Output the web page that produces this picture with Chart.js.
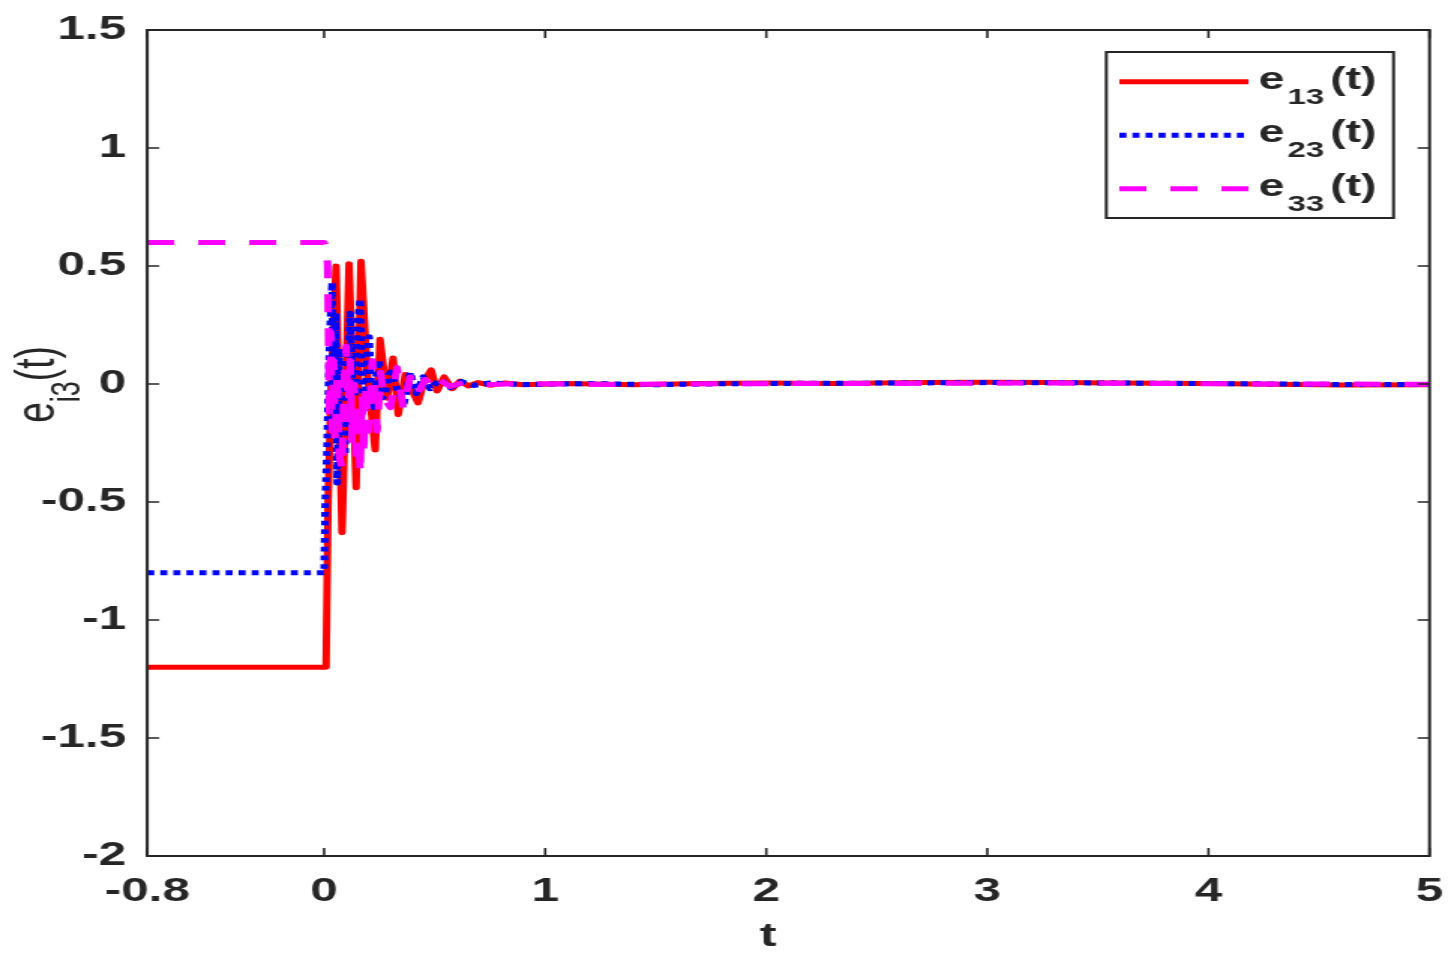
<!DOCTYPE html>
<html><head><meta charset="utf-8">
<script src="https://cdn.jsdelivr.net/npm/chart.js@4.4.1/dist/chart.umd.min.js"></script>
<style>html,body{margin:0;padding:0;background:#fff;overflow:hidden}
#c{display:block}</style>
</head><body>
<canvas id="c" width="969" height="963" style="width:1454px;height:963px"></canvas>
<script>
const xTicks = [-0.8, 0, 1, 2, 3, 4, 5];
const yTicks = [-2, -1.5, -1, -0.5, 0, 0.5, 1, 1.5];
const xTitle = 't';

const t13 = [-0.8, 0, 0.009, 0.018, 0.032, 0.054, 0.081, 0.113, 0.145, 0.167, 0.195, 0.231, 0.253, 0.285, 0.312, 0.335, 0.367, 0.394, 0.425, 0.452, 0.484, 0.511, 0.543, 0.579, 0.615, 0.652, 0.697, 0.751, 0.819, 0.9, 1.1, 1.4, 1.7, 2.0, 2.3, 2.7, 3.0, 3.3, 3.6, 4.0, 4.3, 4.6, 5.0];
const e13 = [-1.2, -1.2, -1.2, -0.5, 0.0, 0.5, -0.63, 0.51, -0.44, 0.52, 0.05, -0.28, 0.19, -0.06, 0.11, -0.13, 0.04, -0.02, -0.08, 0.01, 0.06, -0.03, 0.03, -0.02, 0.012, -0.008, 0.006, -0.005, 0.004, -0.003, 0.002, -0.003, 0.002, 0.004, 0.002, 0.006, 0.007, 0.006, 0.004, 0.002, -0.001, -0.004, -0.003];

const t23 = [-0.8, 0, 0.005, 0.012, 0.016, 0.025, 0.036, 0.045, 0.052, 0.059, 0.068, 0.077, 0.086, 0.095, 0.106, 0.118, 0.128, 0.14, 0.15, 0.163, 0.175, 0.186, 0.195, 0.204, 0.215, 0.226, 0.237, 0.249, 0.262, 0.276, 0.29, 0.303, 0.33, 0.362, 0.39, 0.416, 0.448, 0.48, 0.525, 0.57, 0.62, 0.68, 0.75, 0.9, 1.2, 1.5, 1.8, 2.2, 2.6, 3.0, 3.4, 3.8, 4.2, 4.6, 5.0];
const e23 = [-0.8, -0.8, -0.5, -0.3, -0.15, 0.2, 0.43, -0.2, 0.3, -0.42, 0.1, 0.15, -0.25, -0.3, 0.1, 0.3, 0.0, -0.05, 0.25, 0.36, -0.05, -0.08, 0.15, 0.2, -0.05, -0.1, 0.05, 0.1, -0.06, -0.05, 0.04, 0.05, -0.02, -0.08, 0.05, -0.04, 0.03, -0.02, 0.02, -0.015, 0.01, -0.006, 0.004, -0.002, 0.002, -0.003, 0.001, 0.003, 0.004, 0.006, 0.005, 0.003, 0.001, -0.002, -0.002];

const t33 = [-0.8, 0, 0.01, 0.016, 0.02, 0.024, 0.03, 0.036, 0.043, 0.05, 0.059, 0.068, 0.081, 0.09, 0.1, 0.109, 0.118, 0.127, 0.136, 0.145, 0.154, 0.163, 0.172, 0.18, 0.186, 0.2, 0.218, 0.24, 0.255, 0.272, 0.3, 0.33, 0.357, 0.39, 0.425, 0.457, 0.493, 0.525, 0.57, 0.63, 0.7, 0.9, 1.3, 1.8, 2.3, 2.8, 3.3, 3.8, 4.3, 5.0];
const e33 = [0.6, 0.6, 0.58, 0.5, 0.2, -0.15, 0.22, -0.2, 0.1, -0.25, 0.05, -0.3, -0.36, 0.0, 0.16, -0.15, 0.1, -0.25, 0.0, -0.3, -0.1, -0.38, -0.05, -0.3, 0.0, -0.2, 0.1, -0.2, 0.05, -0.06, -0.1, 0.07, -0.1, 0.03, -0.04, 0.02, -0.02, 0.015, -0.01, 0.006, -0.004, 0.002, -0.002, 0.001, 0.002, 0.003, 0.004, 0.002, 0.0, -0.001];

const seriesNames = [['e', '13', '(t)'], ['e', '23', '(t)'], ['e', '33', '(t)']];
const TXT = '#262626';
const FAM = '"Liberation Sans", Arial, sans-serif';

function pts(t, v) { return t.map((x, i) => ({ x: x, y: v[i] })); }

const frame = {
  id: 'frame',
  afterDraw(chart) {
    const { ctx, chartArea: a, scales: { x, y } } = chart;
    ctx.save();
    ctx.strokeStyle = TXT; ctx.lineWidth = 2;
    ctx.strokeRect(a.left, a.top, a.right - a.left, a.bottom - a.top);
    ctx.lineWidth = 1.6; ctx.beginPath();
    x.ticks.forEach(tk => {
      const p = x.getPixelForValue(tk.value);
      ctx.moveTo(p, a.bottom); ctx.lineTo(p, a.bottom - 8);
      ctx.moveTo(p, a.top); ctx.lineTo(p, a.top + 8);
    });
    y.ticks.forEach(tk => {
      const p = y.getPixelForValue(tk.value);
      ctx.moveTo(a.left, p); ctx.lineTo(a.left + 8, p);
      ctx.moveTo(a.right, p); ctx.lineTo(a.right - 8, p);
    });
    ctx.stroke();

    // x axis title
    ctx.fillStyle = TXT; ctx.textAlign = 'center'; ctx.textBaseline = 'alphabetic';
    ctx.font = 'bold 34px ' + FAM;
    ctx.fillText(xTitle, 512, 946);

    // legend
    const bx = 737.3, by = 52, bw = 191.4, bh = 166;
    ctx.fillStyle = '#fff';
    ctx.fillRect(bx, by, bw, bh);
    ctx.lineWidth = 2; ctx.strokeStyle = TXT;
    ctx.strokeRect(bx, by, bw, bh);
    const rows = [81.7, 135.2, 188.8];
    chart.data.datasets.forEach((ds, i) => {
      const ly = rows[i];
      ctx.save();
      ctx.strokeStyle = ds.borderColor; ctx.lineWidth = ds.borderWidth;
      ctx.setLineDash(ds.borderDash || []);
      ctx.lineCap = 'butt';
      ctx.beginPath(); ctx.moveTo(746, ly); ctx.lineTo(832, ly); ctx.stroke();
      ctx.restore();
      const nm = seriesNames[i];
      ctx.fillStyle = TXT; ctx.textBaseline = 'alphabetic'; ctx.textAlign = 'left';
      let tx = 838.7;
      ctx.font = 'bold 31px ' + FAM;
      ctx.fillText(nm[0], tx, ly + 7);
      tx += ctx.measureText(nm[0]).width + 2;
      ctx.font = 'bold 22px ' + FAM;
      ctx.fillText(nm[1], tx, ly + 22);
      tx += ctx.measureText(nm[1]).width + 4;
      ctx.font = 'bold 31px ' + FAM;
      ctx.fillText(nm[2], tx, ly + 7);
    });

    // y axis title e_{i3}(t)
    ctx.save();
    ctx.translate(35.6, 384.5);
    ctx.rotate(-Math.PI / 2);
    ctx.fillStyle = TXT; ctx.textBaseline = 'alphabetic'; ctx.textAlign = 'left';
    const fMain = '37px ' + FAM, fSub = '27px ' + FAM;
    ctx.font = fMain; const w1 = ctx.measureText('e').width; const w3 = ctx.measureText('(t)').width;
    ctx.font = fSub; const w2 = ctx.measureText('i3').width;
    let sx = -(w1 + w2 + w3) / 2;
    ctx.font = fMain; ctx.fillText('e', sx, 0); sx += w1;
    ctx.font = fSub; ctx.fillText('i3', sx, 17.7); sx += w2;
    ctx.font = fMain; ctx.fillText('(t)', sx, 0);
    ctx.restore();

    ctx.restore();
  }
};

const tickFont = { family: FAM, size: 33, weight: 'bold' };

new Chart(document.getElementById('c'), {
  type: 'line',
  data: {
    datasets: [
      { label: 'e13(t)', data: pts(t13, e13), borderColor: '#ff0000', borderWidth: 5, order: 3 },
      { label: 'e23(t)', data: pts(t23, e23), borderColor: '#0000ff', borderWidth: 5, borderDash: [4.7, 4], order: 2 },
      { label: 'e33(t)', data: pts(t33, e33), borderColor: '#ff00ff', borderWidth: 5, borderDash: [18, 16], order: 1 }
    ]
  },
  options: {
    responsive: false, animation: false, devicePixelRatio: 1,
    layout: { padding: { left: 0, right: 16.3, top: 30, bottom: 0 } },
    plugins: { legend: { display: false }, tooltip: { enabled: false } },
    elements: { point: { radius: 0 }, line: { tension: 0, borderJoinStyle: 'round', fill: false } },
    scales: {
      x: {
        type: 'linear', min: -0.8, max: 5,
        afterBuildTicks(s) { s.ticks = xTicks.map(v => ({ value: v })); },
        afterFit(s) { s.height = 107; s.paddingLeft = 0; s.paddingRight = 0; },
        grid: { display: false, drawTicks: false }, border: { display: false },
        ticks: { padding: 16, font: tickFont, color: TXT, maxRotation: 0, autoSkip: false, callback: v => String(v) },
        title: { display: false }
      },
      y: {
        type: 'linear', min: -2, max: 1.5,
        afterBuildTicks(s) { s.ticks = yTicks.map(v => ({ value: v })); },
        afterFit(s) { s.width = 98.1; s.paddingTop = 0; s.paddingBottom = 0; },
        grid: { display: false, drawTicks: false }, border: { display: false },
        ticks: { padding: 14, font: tickFont, color: TXT, autoSkip: false, callback: v => String(v) }
      }
    }
  },
  plugins: [frame]
});
</script>
</body></html>
